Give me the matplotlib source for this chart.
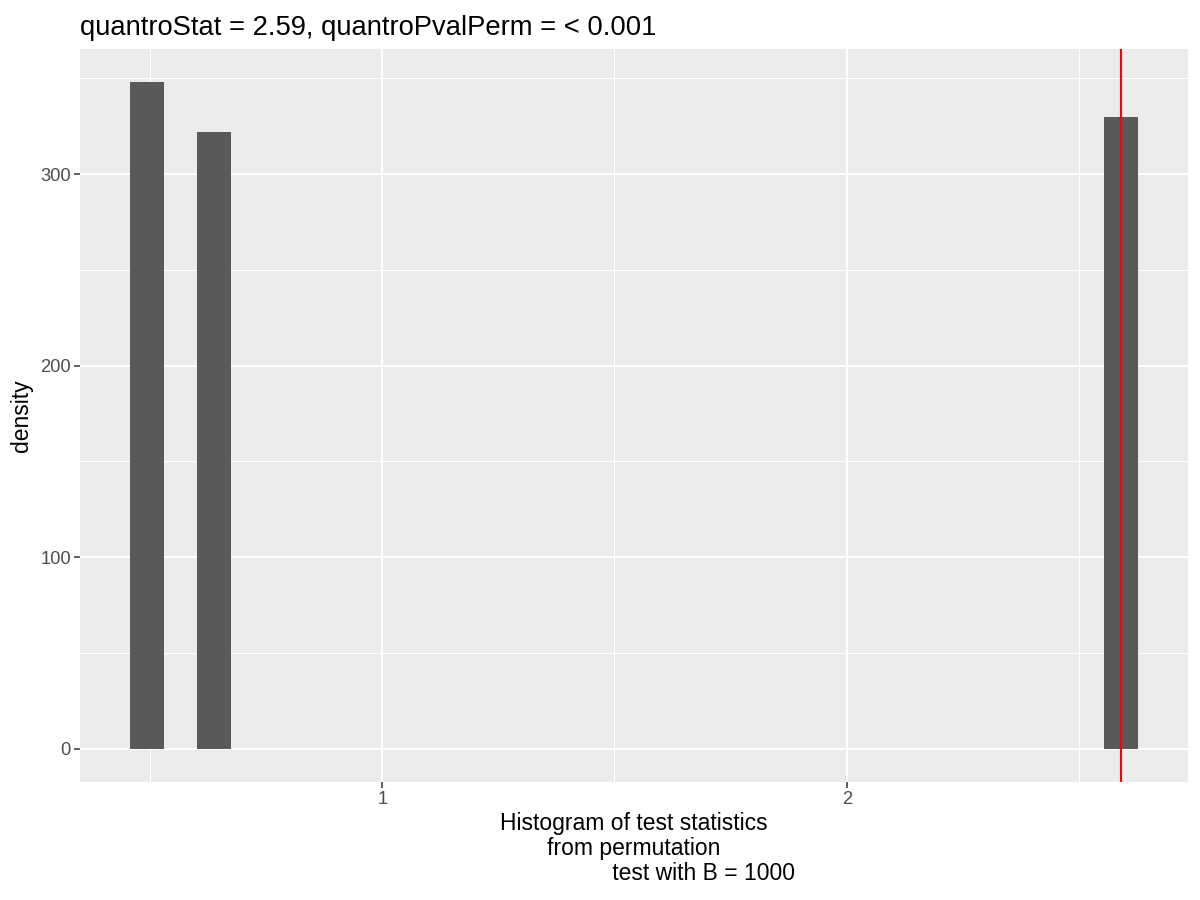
import matplotlib
matplotlib.use("Agg")
import matplotlib.pyplot as plt
from matplotlib.ticker import FixedLocator

plt.rcParams['font.family'] = ['Liberation Sans', 'DejaVu Sans']

# Data
bin_centers = [0.494, 0.638, 2.590]
bin_counts = [348, 322, 330]
bin_width = 0.0723
quantro_stat = 2.59
x_major = [1, 2]
x_minor = [0.5, 1.5, 2.5]
y_major = [0, 100, 200, 300]
y_minor = [50, 150, 250, 350]
title = "quantroStat = 2.59, quantroPvalPerm = < 0.001"
xlabel = "Histogram of test statistics\nfrom permutation\n" + " " * 22 + "test with B = 1000"
ylabel = "density"

fig = plt.figure(figsize=(12, 9), dpi=100)
ax = fig.add_axes([80 / 1200, (900 - 782) / 900, 1108 / 1200, 733 / 900])
ax.set_facecolor("#EBEBEB")

ax.bar(bin_centers, bin_counts, width=bin_width, color="#595959", zorder=3, linewidth=0)
ax.axvline(quantro_stat, color="red", lw=1.5, zorder=4)

left = min(bin_centers) - bin_width / 2
right = max(bin_centers) + bin_width / 2
xr = right - left
ax.set_xlim(left - 0.05 * xr, right + 0.05 * xr)
ymax = max(bin_counts)
ax.set_ylim(-0.05 * ymax, 1.05 * ymax)

ax.xaxis.set_major_locator(FixedLocator(x_major))
ax.xaxis.set_minor_locator(FixedLocator(x_minor))
ax.yaxis.set_major_locator(FixedLocator(y_major))
ax.yaxis.set_minor_locator(FixedLocator(y_minor))
ax.set_xticklabels([str(v) for v in x_major])
ax.set_yticklabels([str(v) for v in y_major])

ax.grid(which="major", color="white", lw=1.45, zorder=1)
ax.grid(which="minor", color="white", lw=0.75, zorder=1)
ax.set_axisbelow(True)
for s in ax.spines.values():
    s.set_visible(False)

ax.tick_params(which="major", length=4.0, width=1.1, color="#333333",
               labelcolor="#4D4D4D", labelsize=13.2, pad=2.5)
ax.tick_params(which="minor", length=0)

ax.set_xlabel(xlabel, fontsize=16.5, color="black", labelpad=3, linespacing=1.1)
ax.set_ylabel(ylabel, fontsize=16.5, color="black", labelpad=5)
ax.set_title(title, fontsize=19.7, loc="left", color="black", pad=10)

fig.savefig("out.png", dpi=100)
